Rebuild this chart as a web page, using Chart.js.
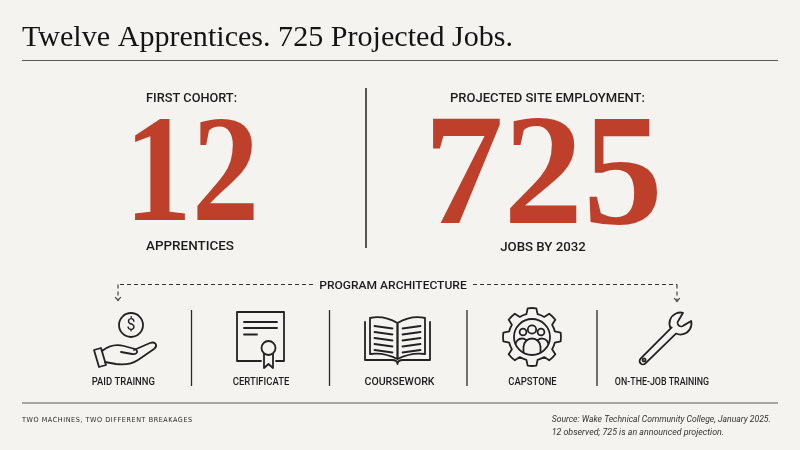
<!DOCTYPE html>
<html>
<head>
<meta charset="utf-8">
<script src="https://cdn.jsdelivr.net/npm/chart.js@4.4.1/dist/chart.umd.min.js"></script>
<style>
  html, body { margin: 0; padding: 0; background: #F5F3EF; }
  #wrap { width: 800px; height: 450px; position: relative; }
</style>
</head>
<body>
<div id="wrap"><canvas id="c" width="800" height="450"></canvas></div>
<script>
// ---- data ----
const titleText = 'Twelve Apprentices. 725 Projected Jobs.';
const headlineLabels = ['FIRST COHORT:', 'PROJECTED SITE EMPLOYMENT:'];
const headlineValues = [12, 725];
const headlineUnits = ['APPRENTICES', 'JOBS BY 2032'];
const sectionLabel = 'PROGRAM ARCHITECTURE';
const stageLabels = ['PAID TRAINNG', 'CERTIFICATE', 'COURSEWORK', 'CAPSTONE', 'ON-THE-JOB TRAINING'];
const footLeft = 'TWO MACHINES, TWO DIFFERENT BREAKAGES';
const sourceLines = ['Source: Wake Technical Community College, January 2025.', '12 observed; 725 is an announced projection.'];

// ---- styles ----
const BG = '#F5F3EF', INK = '#1c1c1c', RED = '#BE3F2A', RULE = '#5a5a5a';
const SANS = 'Roboto, "Liberation Sans", sans-serif';
const SERIF = '"Liberation Serif", "DejaVu Serif", serif';

function fitText(ctx, text, font, x, y, w, align, spacing) {
  ctx.save();
  ctx.font = font;
  ctx.letterSpacing = spacing || '0px';
  ctx.textAlign = align; ctx.textBaseline = 'alphabetic';
  const m = ctx.measureText(text).width;
  ctx.translate(x, y); ctx.scale(w / m, 1);
  ctx.fillText(text, 0, 0);
  ctx.restore();
}
function fitBox(ctx, text, font, left, top, right, bottom) {
  ctx.save();
  ctx.font = font; ctx.textAlign = 'left'; ctx.textBaseline = 'alphabetic';
  const m = ctx.measureText(text);
  const iw = m.actualBoundingBoxLeft + m.actualBoundingBoxRight;
  const ih = m.actualBoundingBoxAscent + m.actualBoundingBoxDescent;
  ctx.translate(left, bottom);
  ctx.scale((right - left) / iw, (bottom - top) / ih);
  ctx.fillText(text, m.actualBoundingBoxLeft, -m.actualBoundingBoxDescent);
  ctx.restore();
}
function line(ctx, x1, y1, x2, y2) { ctx.beginPath(); ctx.moveTo(x1, y1); ctx.lineTo(x2, y2); ctx.stroke(); }

function drawCoinHand(ctx) {
  ctx.beginPath(); ctx.arc(131, 325, 12, 0, Math.PI * 2); ctx.stroke();
  ctx.save(); ctx.fillStyle = INK; ctx.font = '400 16px ' + SANS; ctx.textAlign = 'center'; ctx.textBaseline = 'middle';
  ctx.fillText('$', 131, 326); ctx.restore();
  // cuff
  ctx.beginPath();
  ctx.moveTo(94, 350); ctx.lineTo(101, 348); ctx.lineTo(106, 365); ctx.lineTo(99, 367); ctx.closePath(); ctx.stroke();
  // palm top + thumb
  ctx.beginPath();
  ctx.moveTo(102, 351);
  ctx.bezierCurveTo(108, 346, 116, 344, 124, 346);
  ctx.lineTo(135, 349);
  ctx.bezierCurveTo(139, 351, 137, 355, 132, 354);
  ctx.lineTo(121, 352);
  ctx.stroke();
  // fingers
  ctx.beginPath();
  ctx.moveTo(134, 350);
  ctx.lineTo(150, 343);
  ctx.bezierCurveTo(156, 341, 158, 346, 154, 349);
  ctx.lineTo(138, 360);
  ctx.bezierCurveTo(132, 364, 124, 365, 116, 364);
  ctx.lineTo(105, 362);
  ctx.stroke();
}
function drawCertificate(ctx) {
  ctx.beginPath();
  ctx.moveTo(261, 361); ctx.lineTo(237, 361); ctx.lineTo(237, 312); ctx.lineTo(284, 312); ctx.lineTo(284, 361); ctx.lineTo(276, 361);
  ctx.stroke();
  line(ctx, 244, 322, 277, 322);
  line(ctx, 244, 328, 277, 328);
  line(ctx, 244, 334.5, 257, 334.5);
  ctx.beginPath(); ctx.arc(268.5, 348, 7, 0, Math.PI * 2); ctx.stroke();
  ctx.beginPath();
  ctx.moveTo(264, 354); ctx.lineTo(264, 368); ctx.lineTo(268.5, 364); ctx.lineTo(273, 368); ctx.lineTo(273, 354);
  ctx.stroke();
}
function drawBook(ctx) {
  const mid = 397.5;
  for (const s of [-1, 1]) {
    const ox = mid + s * 27.5;
    ctx.beginPath();
    ctx.moveTo(ox, 318);
    ctx.quadraticCurveTo(mid + s * 14, 315, mid, 323);
    ctx.lineTo(mid, 359);
    ctx.quadraticCurveTo(mid + s * 14, 352, ox, 354);
    ctx.closePath(); ctx.stroke();
    for (let i = 0; i < 5; i++) {
      const y = 327 + i * 6;
      line(ctx, mid + s * 23, y - 1, mid + s * 5, y + 1.5);
    }
  }
  ctx.beginPath();
  ctx.moveTo(365, 322); ctx.lineTo(365, 360); ctx.lineTo(392, 360);
  ctx.quadraticCurveTo(397.5, 360, 397.5, 364);
  ctx.quadraticCurveTo(397.5, 360, 403, 360);
  ctx.lineTo(430, 360); ctx.lineTo(430, 322);
  ctx.stroke();
}
function drawGear(ctx) {
  const cx = 532, cy = 337, rO = 29, rR = 23.5, n = 8, ho = 0.15, hr = 0.24;
  ctx.beginPath();
  for (let i = 0; i < n; i++) {
    const t = i * 2 * Math.PI / n - Math.PI / 2;
    const tn = (i + 1) * 2 * Math.PI / n - Math.PI / 2;
    if (i === 0) ctx.moveTo(cx + rR * Math.cos(t - hr), cy + rR * Math.sin(t - hr));
    ctx.lineTo(cx + rO * Math.cos(t - ho), cy + rO * Math.sin(t - ho));
    ctx.arc(cx, cy, rO, t - ho, t + ho);
    ctx.lineTo(cx + rR * Math.cos(t + hr), cy + rR * Math.sin(t + hr));
    ctx.arc(cx, cy, rR, t + hr, tn - hr);
  }
  ctx.closePath(); ctx.stroke();
  ctx.beginPath(); ctx.arc(cx, cy, 18, 0, Math.PI * 2); ctx.stroke();
  ctx.save();
  ctx.beginPath(); ctx.arc(cx, cy, 18, 0, Math.PI * 2); ctx.clip();
  ctx.beginPath(); ctx.arc(cx, cy - 7.5, 4.2, 0, Math.PI * 2); ctx.stroke();
  ctx.beginPath(); ctx.arc(cx - 9, cy - 5, 3.4, 0, Math.PI * 2); ctx.stroke();
  ctx.beginPath(); ctx.arc(cx + 9, cy - 5, 3.4, 0, Math.PI * 2); ctx.stroke();
  ctx.beginPath(); ctx.arc(cx - 10, cy + 8, 6.5, Math.PI, Math.PI * 1.72); ctx.moveTo(cx - 16.5, cy + 8); ctx.lineTo(cx - 16.5, cy + 20); ctx.stroke();
  ctx.beginPath(); ctx.arc(cx + 10, cy + 8, 6.5, Math.PI * 1.28, Math.PI * 2); ctx.lineTo(cx + 16.5, cy + 20); ctx.stroke();
  ctx.beginPath(); ctx.moveTo(cx - 8.5, cy + 20); ctx.lineTo(cx - 8.5, cy + 10); ctx.arc(cx, cy + 10, 8.5, Math.PI, 0); ctx.lineTo(cx + 8.5, cy + 20); ctx.stroke();
  ctx.restore();
}
function drawWrench(ctx) {
  ctx.save();
  ctx.translate(643, 361);
  ctx.rotate(-Math.PI / 4);
  const hw = 3.4, hc = 53, hr = 11, sw = 3.6;
  const a1 = Math.atan2(-hw, 44 - hc);
  ctx.beginPath();
  ctx.arc(0, 0, hw, Math.PI / 2, Math.PI * 1.5);
  ctx.lineTo(44, -hw);
  ctx.arc(hc, 0, hr, a1, -0.55);
  ctx.lineTo(hc + 1, -sw);
  ctx.arc(hc + 1, 0, sw, -Math.PI / 2, Math.PI / 2, true);
  ctx.lineTo(hc + hr * Math.cos(0.55), hr * Math.sin(0.55));
  ctx.arc(hc, 0, hr, 0.55, -a1);
  ctx.lineTo(0, hw);
  ctx.stroke();
  ctx.beginPath(); ctx.arc(1.5, 0, 1.5, 0, Math.PI * 2); ctx.stroke();
  ctx.restore();
}

const infographic = {
  id: 'infographic',
  beforeDraw(chart) {
    const ctx = chart.ctx;
    ctx.save(); ctx.fillStyle = BG; ctx.fillRect(0, 0, chart.width, chart.height); ctx.restore();
  },
  afterDraw(chart) {
    const ctx = chart.ctx;
    const labels = chart.data.labels;
    const vals = chart.data.datasets[0].data;
    ctx.save();
    // title
    ctx.fillStyle = '#141414';
    fitText(ctx, titleText, '400 30px ' + SERIF, 22, 45.5, 491, 'left');
    ctx.strokeStyle = RULE; ctx.lineWidth = 1.2;
    line(ctx, 22, 60.5, 778, 60.5);

    // headline blocks
    ctx.fillStyle = INK;
    fitText(ctx, labels[0], '500 12px ' + SANS, 191.5, 101.8, 91, 'center');
    fitText(ctx, labels[1], '500 12px ' + SANS, 547.5, 101.6, 195, 'center');
    ctx.fillStyle = RED;
    fitBox(ctx, String(vals[0]), '700 100px ' + SERIF, 135, 120, 254, 222);
    fitBox(ctx, String(vals[1]), '700 100px ' + SERIF, 432, 119, 658, 225);
    ctx.fillStyle = INK;
    fitText(ctx, headlineUnits[0], '500 12px ' + SANS, 190, 249.5, 88, 'center');
    fitText(ctx, headlineUnits[1], '500 12px ' + SANS, 543, 250.5, 85.7, 'center');
    ctx.strokeStyle = '#222'; ctx.lineWidth = 1.5;
    line(ctx, 366, 88, 366, 248);

    // program architecture
    fitText(ctx, sectionLabel, '500 10.5px ' + SANS, 393, 288.6, 147.4, 'center');
    ctx.strokeStyle = '#333'; ctx.lineWidth = 1.1;
    ctx.setLineDash([4, 3]);
    line(ctx, 313, 284.5, 118, 284.5);
    line(ctx, 118, 284.5, 118, 299);
    line(ctx, 473, 284.5, 677, 284.5);
    line(ctx, 677, 284.5, 677, 300);
    ctx.setLineDash([]);
    ctx.beginPath(); ctx.moveTo(115.2, 297); ctx.lineTo(118, 300.5); ctx.lineTo(120.8, 297); ctx.stroke();
    ctx.beginPath(); ctx.moveTo(674.2, 298); ctx.lineTo(677, 301.5); ctx.lineTo(679.8, 298); ctx.stroke();

    // icons
    ctx.strokeStyle = '#222'; ctx.lineWidth = 1.8; ctx.lineJoin = 'round'; ctx.lineCap = 'round';
    drawCoinHand(ctx);
    drawCertificate(ctx);
    drawBook(ctx);
    drawGear(ctx);
    drawWrench(ctx);
    ctx.lineCap = 'butt';

    // column dividers
    ctx.strokeStyle = '#2a2a2a'; ctx.lineWidth = 1.3;
    for (const x of [191.5, 329.5, 467, 597]) line(ctx, x, 310, x, 386);

    // stage labels
    ctx.fillStyle = INK;
    const centers = [123.3, 261, 399.5, 532.5, 662];
    const widths = [63.3, 56.6, 70, 48.4, 94.3];
    stageLabels.forEach((t, i) => fitText(ctx, t, '500 10px ' + SANS, centers[i], 385.2, widths[i], 'center'));

    // footer
    ctx.strokeStyle = RULE; ctx.lineWidth = 1.2;
    line(ctx, 22, 403, 778, 403);
    ctx.fillStyle = '#2a2a2a';
    fitText(ctx, footLeft, '500 7px "DejaVu Sans", sans-serif', 22, 421.5, 170.7, 'left', '0.6px');
    ctx.fillStyle = '#333';
    fitText(ctx, sourceLines[0], 'italic 400 9.5px ' + SANS, 551.7, 421.5, 219, 'left');
    fitText(ctx, sourceLines[1], 'italic 400 9.5px ' + SANS, 551.7, 434.5, 172.3, 'left');
    ctx.restore();
  }
};

new Chart(document.getElementById('c'), {
  type: 'bar',
  data: {
    labels: headlineLabels,
    datasets: [{ data: headlineValues, backgroundColor: 'rgba(0,0,0,0)', borderWidth: 0 }]
  },
  options: {
    responsive: false,
    animation: false,
    events: [],
    layout: { padding: 0 },
    scales: { x: { display: false }, y: { display: false } },
    plugins: { legend: { display: false }, tooltip: { enabled: false }, title: { display: false } }
  },
  plugins: [infographic]
});
</script>
</body>
</html>
